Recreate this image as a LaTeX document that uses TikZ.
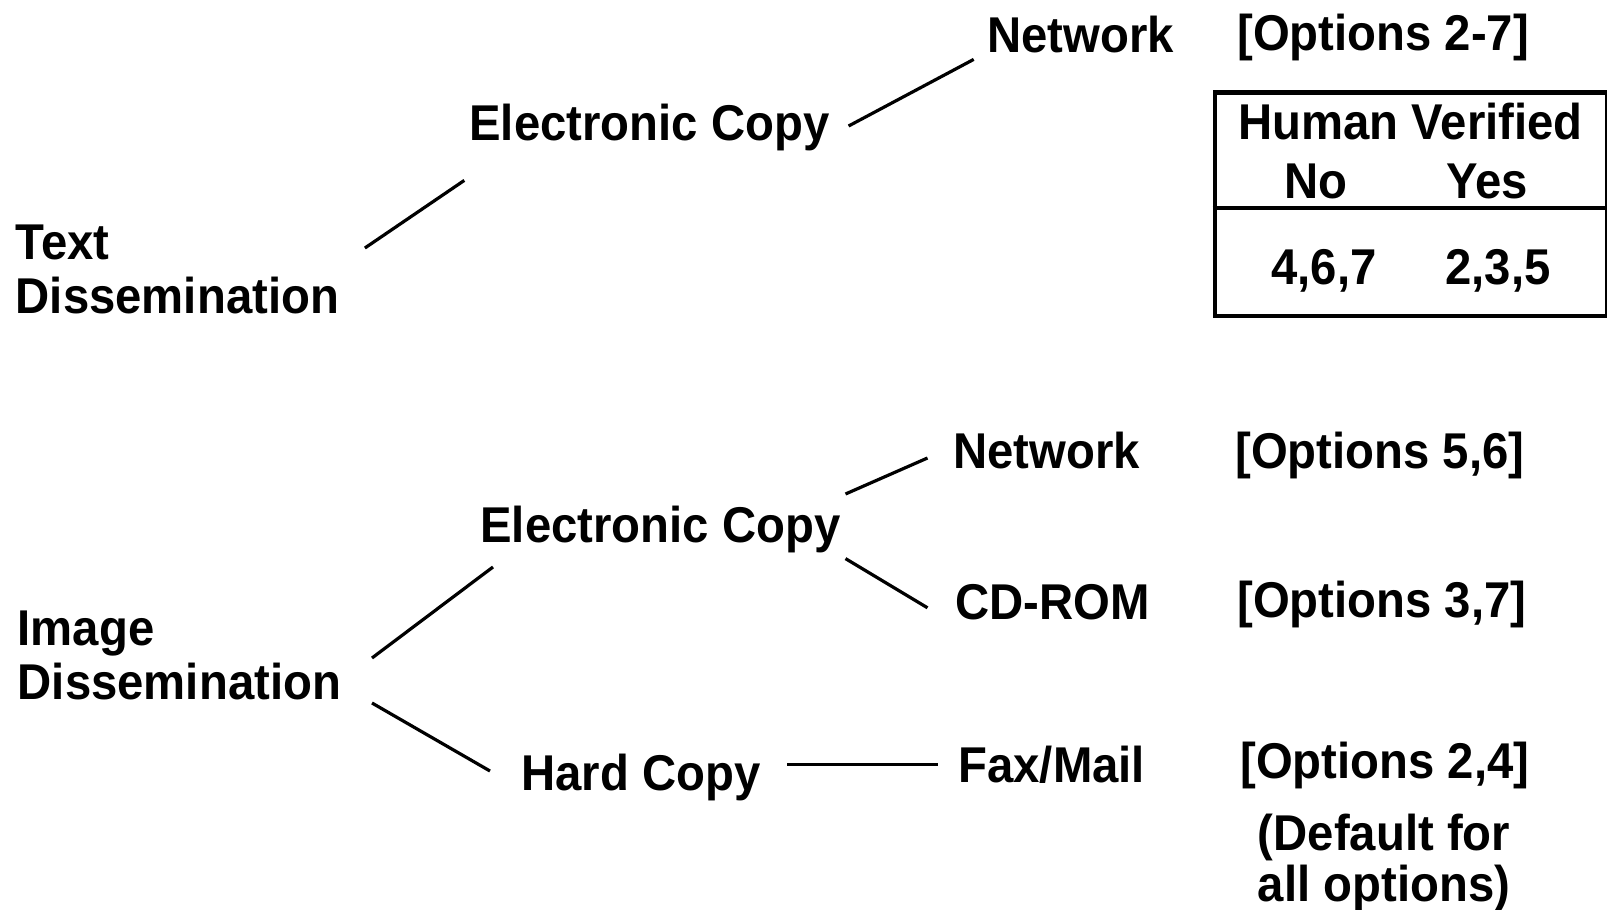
\documentclass[tikz,border=0pt]{standalone}
\usepackage{fontspec}
\newfontfamily\hv{Liberation Sans}[FakeStretch=0.94]
\begin{document}
\begin{tikzpicture}[x=0.5pt,y=-0.5pt,
  lbl/.style={anchor=base west,inner sep=0pt,
    font=\hv\bfseries\fontsize{25.15pt}{27pt}\selectfont},
  twoline/.style={lbl,align=left},
  link/.style={line width=1.6pt},
  frame/.style={line width=2.3pt}]
\useasboundingbox (0,0) rectangle (1607,910);

% --- text dissemination branch (multi-line nodes sit on their last baseline)
\node[twoline] (td) at (15.4,313) {Text\\Dissemination};
\node[lbl] (ec1) at (469,140) {Electronic Copy};
\node[lbl] (nw1) at (987,53) {Network};
\node[lbl] (op1) at (1237,50) {[Options 2-7]};

% verification table
\node[frame,draw,anchor=north west,minimum width=196.25pt,minimum height=111.8pt,inner sep=0pt]
  (hvbox) at (1212.5,90) {};
\draw[frame] (hvbox.west |- 0,208) -- (hvbox.east |- 0,208);
\node[lbl] (hvt) at (1238,139) {Human Verified};
\node[lbl] (hvno) at (1284,198) {No};
\node[lbl] (hvyes) at (1446,198) {Yes};
\node[lbl] (hvn) at (1271,284) {4,6,7};
\node[lbl] (hvy) at (1445,284) {2,3,5};

% --- image dissemination branch
\node[twoline] (id) at (17.4,699) {Image\\Dissemination};
\node[lbl] (ec2) at (480,542) {Electronic Copy};
\node[lbl] (nw2) at (953,468) {Network};
\node[lbl] (op2) at (1235,468) {[Options 5,6]};
\node[lbl] (cd) at (955,619) {CD-ROM};
\node[lbl] (op3) at (1237,617) {[Options 3,7]};
\node[lbl] (hc) at (521,790) {Hard Copy};
\node[lbl] (fm) at (958,782) {Fax/Mail};
\node[lbl] (op4) at (1240,778) {[Options 2,4]};
\node[lbl,anchor=base,align=center,
  font=\hv\bfseries\fontsize{25.15pt}{25.5pt}\selectfont]
  (dflt) at (1384,901) {(Default for\\all options)};

% --- connectors
\draw[link] ([shift={(349.5,-65)}]td.base west) -- ([shift={(-4.7,40.4)}]ec1.base west);
\draw[link] ([shift={(379.6,-14)}]ec1.base west) -- ([shift={(-13.3,6.4)}]nw1.base west);
\draw[link] ([shift={(354.6,-41)}]id.base west) -- ([shift={(13,25)}]ec2.base west);
\draw[link] ([shift={(354.6,4)}]id.base west) -- ([shift={(-31,-19)}]hc.base west);
\draw[link] ([shift={(365.5,-48)}]ec2.base west) -- ([shift={(-25.5,-10)}]nw2.base west);
\draw[link] ([shift={(365.5,16.6)}]ec2.base west) -- ([shift={(-27.5,-11.2)}]cd.base west);
\draw[link] ([shift={(266,-25.4)}]hc.base west) -- ([shift={(-20.2,-17.4)}]fm.base west);
\end{tikzpicture}
\end{document}
